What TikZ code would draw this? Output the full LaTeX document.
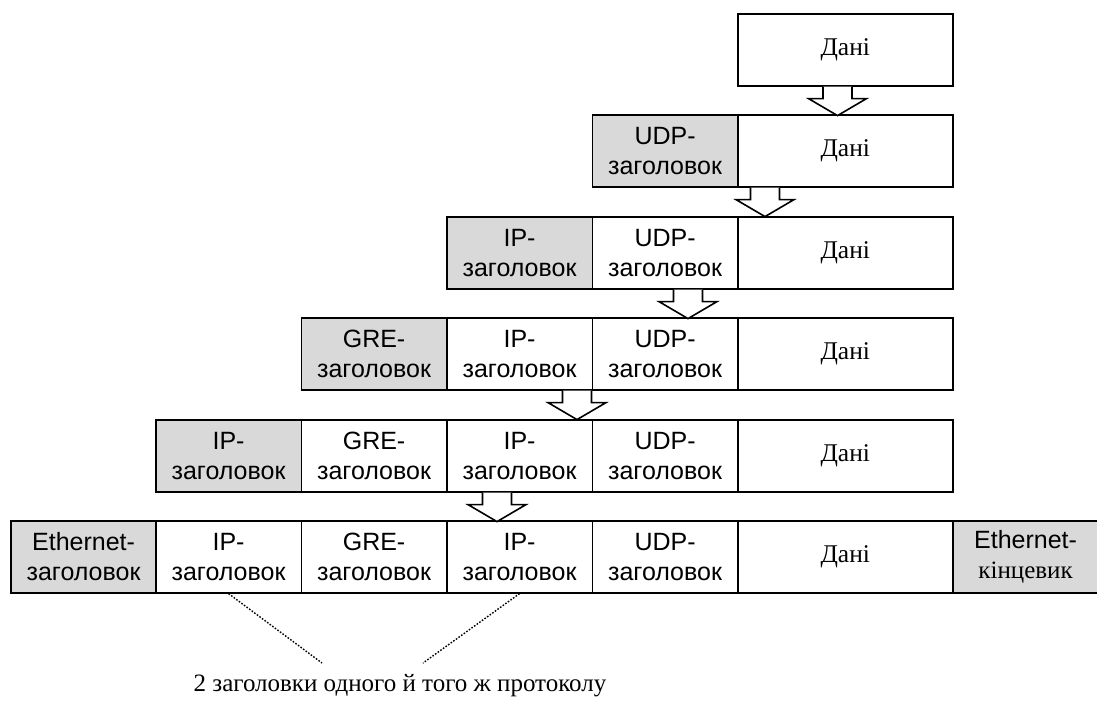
\documentclass[tikz,border=0pt]{standalone}
\usepackage{fontspec}
\setmainfont{Liberation Serif}
\setsansfont{Liberation Sans}
\usetikzlibrary{calc}
\definecolor{hdrgray}{RGB}{217,217,217}
\tikzset{
  cell/.style={draw, line width=1.6pt, minimum height=72pt, inner sep=0pt,
    anchor=north west, align=center, font=\sffamily\fontsize{25}{30}\selectfont},
  hdr/.style={cell, minimum width=145.5pt},
  grayhdr/.style={hdr, fill=hdrgray},
  payload/.style={cell, minimum width=215pt, font=\rmfamily\fontsize{25.5}{30}\selectfont},
  blockarrow/.style={line width=1.6pt, fill=white, line join=miter},
  note/.style={font=\rmfamily\fontsize{25}{30}\selectfont},
  hint/.style={line width=1.4pt, dash pattern=on 1.6pt off 1.6pt}
}
% hollow down arrow under a row, centred at x = #2
\newcommand\encapsarrow[2]{%
  \draw[blockarrow] (#2,0 |- #1.south) ++(-14.5,0) -- ++(0,12) -- ++(-14.5,0)
    -- ++(29,17) -- ++(29,-17) -- ++(-14.5,0) -- ++(0,-12);
}
\begin{document}
\begin{tikzpicture}[x=1pt,y=-1pt]
\useasboundingbox (0,0) rectangle (1097,702);

% row 1: payload only
\node[payload] (a6) at (737,13) {Дані};
% row 2: UDP
\node[grayhdr] (b5) at (591.5,114) {UDP-\\заголовок};
\node[payload] (b6) at (737,114) {Дані};
% row 3: inner IP
\node[grayhdr] (c4) at (446,216) {IP-\\заголовок};
\node[hdr]     (c5) at (591.5,216) {UDP-\\заголовок};
\node[payload] (c6) at (737,216) {Дані};
% row 4: GRE
\node[grayhdr] (d3) at (300.5,317) {GRE-\\заголовок};
\node[hdr]     (d4) at (446,317) {IP-\\заголовок};
\node[hdr]     (d5) at (591.5,317) {UDP-\\заголовок};
\node[payload] (d6) at (737,317) {Дані};
% row 5: outer IP
\node[grayhdr] (e2) at (155,419) {IP-\\заголовок};
\node[hdr]     (e3) at (300.5,419) {GRE-\\заголовок};
\node[hdr]     (e4) at (446,419) {IP-\\заголовок};
\node[hdr]     (e5) at (591.5,419) {UDP-\\заголовок};
\node[payload] (e6) at (737,419) {Дані};
% row 6: Ethernet frame
\node[grayhdr] (f1) at (10,520) {Ethernet-\\заголовок};
\node[hdr]     (f2) at (155,520) {IP-\\заголовок};
\node[hdr]     (f3) at (300.5,520) {GRE-\\заголовок};
\node[hdr]     (f4) at (446,520) {IP-\\заголовок};
\node[hdr]     (f5) at (591.5,520) {UDP-\\заголовок};
\node[payload] (f6) at (737,520) {Дані};
\node[grayhdr] (f7) at (952,520) {Ethernet-\\{\rmfamily кінцевик}};

% encapsulation steps
\encapsarrow{a6}{837.5}
\encapsarrow{b6}{765}
\encapsarrow{c6}{688}
\encapsarrow{d6}{577}
\encapsarrow{e6}{497}

% note on the two IP headers
\node[note] (lbl) at (400,686) {2 заголовки одного й того ж протоколу};
\coordinate (hintL) at (322,663);
\coordinate (hintR) at (423,663);
\draw[hint] (f2.south) -- (hintL);
\draw[hint] (f4.south) -- (hintR);
\end{tikzpicture}
\end{document}
